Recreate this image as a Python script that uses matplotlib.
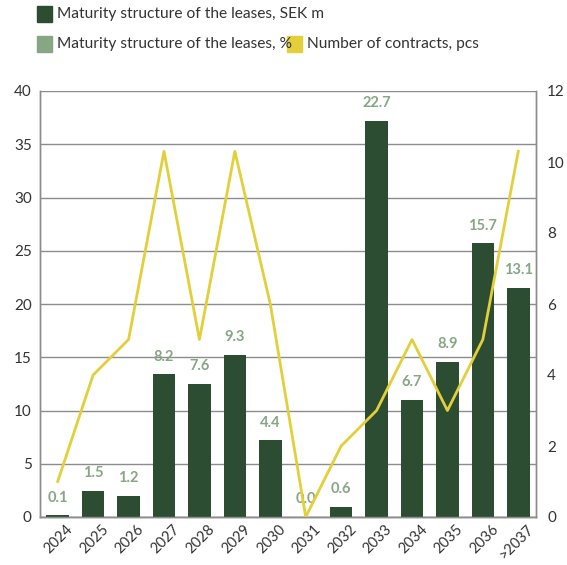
import matplotlib
matplotlib.use("Agg")
import matplotlib.pyplot as plt
import matplotlib.transforms as mtransforms
from matplotlib.patches import Rectangle
import numpy as np

years = ["2024", "2025", "2026", "2027", "2028", "2029", "2030",
         "2031", "2032", "2033", "2034", "2035", "2036", ">2037"]
sek_m = [0.16, 2.46, 1.97, 13.4, 12.5, 15.2, 7.2, 0.0, 0.98, 37.2, 11.0, 14.6, 25.7, 21.5]
pct = [0.1, 1.5, 1.2, 8.2, 7.6, 9.3, 4.4, 0.0, 0.6, 22.7, 6.7, 8.9, 15.7, 13.1]
contracts = [1, 4, 5, 10.3, 5, 10.3, 6, 0, 2, 3, 5, 3, 5, 10.3]

DARK = "#2d4d32"
LIGHT = "#86a684"
YELLOW = "#e2cf3a"
GRID = "#8c8c8c"
TXT = "#333333"

plt.rcParams["font.family"] = ["Lato", "DejaVu Sans"]

fig = plt.figure(figsize=(5.67, 5.65), dpi=100)
ax = fig.add_axes([40 / 567, 48 / 565, 496 / 567, 426 / 565])
ax2 = ax.twinx()

x = np.arange(len(years))
ax.bar(x, sek_m, width=0.64, color=DARK, zorder=3)
for xi, v, p in zip(x, sek_m, pct):
    ax.text(xi, v + 1.0, f"{p:.1f}", ha="center", va="bottom",
            color=LIGHT, fontsize=10.5, fontweight="bold", zorder=4)

ax.set_ylim(0, 40)
ax.set_xlim(-0.5, len(years) - 0.5)
ax.set_yticks(range(0, 41, 5))
ax.grid(axis="y", color=GRID, linewidth=1, zorder=0)
ax.set_axisbelow(True)
ax.set_xticks(x)
ax.set_xticklabels(years, rotation=45, ha="right", rotation_mode="anchor")
ax.tick_params(axis="y", length=0, labelsize=11, colors=TXT, pad=6)
ax.tick_params(axis="x", length=0, labelsize=10.5, colors=TXT, pad=4)
shift = mtransforms.ScaledTranslation(6 / 72, 0, fig.dpi_scale_trans)
for lbl in ax.get_xticklabels():
    lbl.set_transform(lbl.get_transform() + shift)

ax2.plot(x, contracts, color=YELLOW, linewidth=2, zorder=5)
ax2.set_ylim(0, 12)
ax2.set_yticks(range(0, 13, 2))
ax2.tick_params(axis="y", length=0, labelsize=11, colors=TXT, pad=8)

for a in (ax, ax2):
    a.spines["top"].set_visible(False)
    for s in ("left", "right", "bottom"):
        a.spines[s].set_color(GRID)
        a.spines[s].set_linewidth(1)
ax.spines["bottom"].set_color("#555555")

# legend
W, H = 567, 565
def legend_item(px, py, color, label):
    fig.patches.append(Rectangle((px / W, 1 - (py + 8) / H), 15 / W, 16 / H,
                                 transform=fig.transFigure, color=color))
    fig.text((px + 20) / W, 1 - py / H, label, ha="left", va="center",
             fontsize=11.2, color=TXT)

legend_item(37, 14, DARK, "Maturity structure of the leases, SEK m")
legend_item(37, 44, LIGHT, "Maturity structure of the leases, %")
legend_item(287, 44, YELLOW, "Number of contracts, pcs")

fig.savefig("out.png", dpi=100)
